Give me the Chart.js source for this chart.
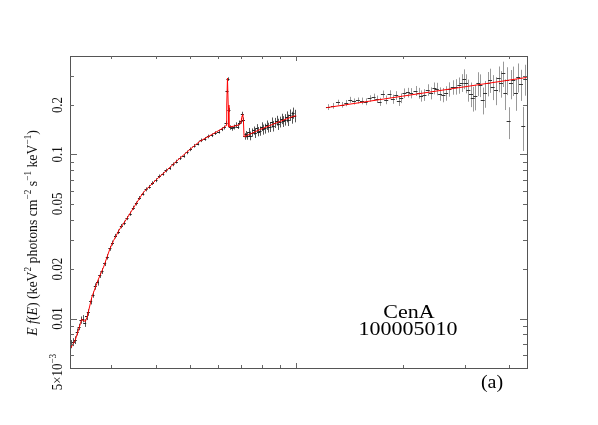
<!DOCTYPE html>
<html>
<head>
<meta charset="utf-8">
<script src="https://cdn.jsdelivr.net/npm/chart.js@4.4.0/dist/chart.umd.min.js"></script>
<style>
  html, body { margin: 0; padding: 0; background: #fff; }
  #wrap { width: 598px; height: 425px; }
</style>
</head>
<body>
<div id="wrap"><canvas id="chart" width="598" height="425"></canvas></div>
<script>
// XIS data (keV, E f(E), 1-sigma error)
const xisEnergy = [
  2.31, 2.34, 2.37, 2.40, 2.43, 2.46, 2.49, 2.52, 2.55, 2.58,
  2.62, 2.66, 2.70, 2.74, 2.78, 2.82, 2.87, 2.92, 2.97, 3.02,
  3.08, 3.14, 3.20, 3.26, 3.32, 3.39, 3.46, 3.53, 3.60, 3.68,
  3.76, 3.84, 3.92, 4.01, 4.10, 4.19, 4.28, 4.38, 4.48, 4.58,
  4.69, 4.80, 4.91, 5.02, 5.14, 5.26, 5.38, 5.51, 5.64, 5.77,
  5.90, 6.03, 6.15, 6.26, 6.33, 6.37, 6.41, 6.45, 6.51, 6.59,
  6.67, 6.75, 6.83, 6.91, 6.98, 7.04, 7.09, 7.15, 7.21, 7.28,
  7.35, 7.42, 7.50, 7.58, 7.66, 7.74, 7.82, 7.90, 7.98, 8.07,
  8.16, 8.25, 8.34, 8.43, 8.52, 8.61, 8.70, 8.80, 8.90, 9.00,
  9.10, 9.20, 9.30, 9.40, 9.50, 9.60, 9.70, 9.80, 9.90
];
const xisFlux = [
  0.0070, 0.0072, 0.0074, 0.0083, 0.0089, 0.0098, 0.0100, 0.0094, 0.0103, 0.0109,
  0.0128, 0.0140, 0.0157, 0.0166, 0.0184, 0.0195, 0.0217, 0.0238, 0.0268, 0.0289,
  0.0318, 0.0338, 0.0366, 0.0383, 0.0410, 0.0436, 0.0473, 0.0503, 0.0543, 0.0578,
  0.0613, 0.0635, 0.0669, 0.0697, 0.0736, 0.0762, 0.0799, 0.0827, 0.0871, 0.0905,
  0.0950, 0.0982, 0.1030, 0.1075, 0.1130, 0.1166, 0.1220, 0.1244, 0.1288, 0.1310,
  0.1350, 0.1376, 0.1425, 0.1460, 0.1560, 0.2420, 0.2880, 0.1870, 0.1460, 0.1440,
  0.1470, 0.1520, 0.1480, 0.1560, 0.1600, 0.1760, 0.1620, 0.1290, 0.1330, 0.1300,
  0.1370, 0.1300, 0.1360, 0.1400, 0.1350, 0.1440, 0.1380, 0.1390, 0.1480, 0.1420,
  0.1440, 0.1510, 0.1460, 0.1470, 0.1570, 0.1490, 0.1560, 0.1610, 0.1530, 0.1580,
  0.1650, 0.1590, 0.1630, 0.1700, 0.1620, 0.1740, 0.1680, 0.1790, 0.1720
];
const xisError = [
  0.0004, 0.0004, 0.0004, 0.0004, 0.0004, 0.0005, 0.0005, 0.0005, 0.0005, 0.0005,
  0.0006, 0.0006, 0.0007, 0.0007, 0.0007, 0.0008, 0.0008, 0.0009, 0.0009, 0.0010,
  0.0010, 0.0011, 0.0011, 0.0012, 0.0012, 0.0013, 0.0014, 0.0014, 0.0015, 0.0016,
  0.0017, 0.0017, 0.0018, 0.0019, 0.0019, 0.0020, 0.0021, 0.0022, 0.0023, 0.0024,
  0.0025, 0.0026, 0.0027, 0.0028, 0.0029, 0.0030, 0.0031, 0.0032, 0.0033, 0.0034,
  0.0035, 0.0036, 0.0037, 0.0040, 0.0045, 0.0060, 0.0070, 0.0055, 0.0045, 0.0045,
  0.005, 0.005, 0.005, 0.005, 0.006, 0.006, 0.006, 0.006, 0.006, 0.007,
  0.008, 0.008, 0.008, 0.008, 0.009, 0.009, 0.009, 0.009, 0.009, 0.010,
  0.010, 0.010, 0.010, 0.010, 0.011, 0.011, 0.011, 0.011, 0.012, 0.012,
  0.012, 0.012, 0.013, 0.013, 0.013, 0.014, 0.014, 0.014, 0.015
];

// PIN data
const pinEnergy = [
  12.30, 12.71, 13.13, 13.50, 13.86, 14.22, 14.57, 14.95, 15.35, 15.72,
  16.13, 16.56, 16.96, 17.22, 17.59, 17.98, 18.37, 18.77, 19.19, 19.52,
  19.82, 20.25, 20.70, 21.15, 21.76, 22.23, 22.57, 23.07, 23.57, 24.09,
  24.62, 24.99, 25.54, 26.10, 26.56, 27.14, 27.73, 28.34, 28.96, 29.40,
  29.92, 30.25, 30.71, 31.24, 31.59, 32.14, 32.78, 33.21, 33.72, 34.23,
  34.83, 35.37, 35.97, 36.77, 37.41, 37.98, 38.56, 39.07, 39.49, 39.92,
  40.53, 41.15, 41.88, 42.51, 43.25, 43.92, 44.49
];
const pinFlux = [
  0.1945, 0.1980, 0.2075, 0.2009, 0.2057, 0.2154, 0.2104, 0.2134, 0.2120, 0.2095,
  0.2194, 0.2237, 0.2175, 0.2095, 0.2332, 0.2154, 0.2332, 0.2175, 0.2289, 0.2125,
  0.2205, 0.2365, 0.2386, 0.2365, 0.2443, 0.2365, 0.2278, 0.2310, 0.2477, 0.2365,
  0.2535, 0.2512, 0.2343, 0.2310, 0.2365, 0.2500, 0.2572, 0.2594, 0.2644, 0.2744,
  0.2900, 0.2719, 0.2477, 0.2343, 0.2205, 0.2256, 0.2719, 0.2656, 0.2154, 0.2365,
  0.2719, 0.2850, 0.2594, 0.2477, 0.2915, 0.2719, 0.3126, 0.2365, 0.2850, 0.1590,
  0.2719, 0.2850, 0.2365, 0.2984, 0.2700, 0.1500, 0.2900
];
const pinError = [
  0.008, 0.008, 0.008, 0.008, 0.009, 0.009, 0.009, 0.009, 0.010, 0.010,
  0.010, 0.011, 0.011, 0.012, 0.012, 0.013, 0.013, 0.014, 0.014, 0.015,
  0.015, 0.016, 0.016, 0.017, 0.017, 0.018, 0.018, 0.019, 0.020, 0.020,
  0.021, 0.022, 0.022, 0.023, 0.024, 0.025, 0.026, 0.028, 0.030, 0.034,
  0.040, 0.036, 0.038, 0.040, 0.038, 0.040, 0.045, 0.042, 0.040, 0.044,
  0.046, 0.048, 0.045, 0.048, 0.052, 0.050, 0.055, 0.050, 0.055, 0.035,
  0.055, 0.058, 0.052, 0.060, 0.058, 0.045, 0.062
];

// best-fit model (red line)
const modelXisEnergy = [
  2.30, 2.37, 2.45, 2.47, 2.53, 2.56, 2.64, 2.75, 2.85, 2.97,
  3.04, 3.15, 3.31, 3.50, 3.69, 4.03, 4.30, 4.59, 5.00, 5.34,
  5.80, 6.21, 6.33, 6.36, 6.39, 6.42, 6.45, 6.70, 6.92, 6.98,
  7.03, 7.06, 7.09, 7.12, 7.89, 8.80, 9.79, 10.0
];
const modelXisFlux = [
  0.0066, 0.0074, 0.0093, 0.0099, 0.0096, 0.0102, 0.0135, 0.0172, 0.0206, 0.0266,
  0.0298, 0.0345, 0.0404, 0.0490, 0.0586, 0.0706, 0.0800, 0.0912, 0.1072, 0.1204,
  0.1330, 0.1450, 0.1500, 0.2000, 0.2920, 0.2000, 0.1470, 0.1490, 0.1520, 0.1580,
  0.1720, 0.1750, 0.1600, 0.1280, 0.1417, 0.1560, 0.1706, 0.1720
];
const modelPinEnergy = [12.17, 20.0, 30.0, 44.9];
const modelPinFlux = [0.1927, 0.2265, 0.2584, 0.2945];

// axes
const xMin = 2.29, xMax = 45.0;
const yMin = 0.005, yMax = 0.398;
const xMajorTicks = [10];
const xMinorTicks = [3, 4, 5, 6, 7, 8, 9, 20, 30, 40];
const yMajorTicks = [0.01, 0.1];
const yMinorTicks = [0.006, 0.007, 0.008, 0.009, 0.02, 0.03, 0.04, 0.05, 0.06, 0.07, 0.08, 0.09, 0.2, 0.3];
const yTickLabels = ["0.01", "0.02", "0.05", "0.1", "0.2"];

const SERIF = '"Liberation Serif", "DejaVu Serif", serif';

function toPoints(xs, ys) {
  return xs.map((x, i) => ({ x: x, y: ys[i] }));
}

// Draw a run of text pieces (italic / superscript) along the current x axis
function drawRuns(ctx, runs, size, align) {
  const pieces = runs.map(r => {
    const fs = r.sup ? Math.round(size * 0.68) : size;
    ctx.font = (r.it ? 'italic ' : '') + fs + 'px ' + SERIF;
    return { r: r, font: ctx.font, w: ctx.measureText(r.t).width };
  });
  const total = pieces.reduce((s, p) => s + p.w, 0);
  let x = align === 'center' ? -total / 2 : 0;
  ctx.textAlign = 'left';
  ctx.textBaseline = 'alphabetic';
  pieces.forEach(p => {
    ctx.font = p.font;
    ctx.fillText(p.r.t, x, p.r.sup ? -size * 0.42 : 0);
    x += p.w;
  });
}

// error bars / bin marks for data
function drawData(ctx, xs, ys, es, sx, sy, barColor, binColor, half) {
  for (let i = 0; i < xs.length; i++) {
    const px = sx.getPixelForValue(xs[i]);
    const py = sy.getPixelForValue(ys[i]);
    const top = sy.getPixelForValue(ys[i] + es[i]);
    const bot = sy.getPixelForValue(Math.max(ys[i] - es[i], yMin));
    ctx.strokeStyle = barColor;
    ctx.beginPath();
    ctx.moveTo(Math.round(px) + 0.5, top);
    ctx.lineTo(Math.round(px) + 0.5, bot);
    ctx.stroke();
    ctx.strokeStyle = binColor;
    ctx.beginPath();
    ctx.moveTo(px - half, Math.round(py) + 0.5);
    ctx.lineTo(px + half, Math.round(py) + 0.5);
    ctx.stroke();
  }
}

const dataPlugin = {
  id: 'dataPlugin',
  beforeDatasetsDraw(chart) {
    const ctx = chart.ctx;
    const a = chart.chartArea;
    ctx.save();
    ctx.beginPath();
    ctx.rect(a.left, a.top, a.right - a.left, a.bottom - a.top);
    ctx.clip();
    ctx.lineWidth = 1;
    drawData(ctx, xisEnergy, xisFlux, xisError, chart.scales.x, chart.scales.y, '#555', '#222', 1.5);
    drawData(ctx, pinEnergy, pinFlux, pinError, chart.scales.x, chart.scales.y, '#999', '#333', 2);
    ctx.restore();
  }
};

const framePlugin = {
  id: 'framePlugin',
  afterDraw(chart) {
    const ctx = chart.ctx;
    const a = chart.chartArea;
    const sx = chart.scales.x, sy = chart.scales.y;
    ctx.save();
    ctx.lineWidth = 1;
    ctx.strokeStyle = '#555';
    ctx.strokeRect(Math.round(a.left) + 0.5, Math.round(a.top) + 0.5,
      Math.round(a.right - a.left), Math.round(a.bottom - a.top));

    // inward ticks on all four sides
    ctx.strokeStyle = '#666';
    ctx.beginPath();
    const xt = (v, len) => {
      const p = Math.round(sx.getPixelForValue(v)) + 0.5;
      ctx.moveTo(p, a.bottom); ctx.lineTo(p, a.bottom - len);
      ctx.moveTo(p, a.top); ctx.lineTo(p, a.top + len);
    };
    const yt = (v, len) => {
      const p = Math.round(sy.getPixelForValue(v)) + 0.5;
      ctx.moveTo(a.left, p); ctx.lineTo(a.left + len, p);
      ctx.moveTo(a.right, p); ctx.lineTo(a.right - len, p);
    };
    xMajorTicks.forEach(v => xt(v, 5));
    xMinorTicks.forEach(v => xt(v, 3));
    yMajorTicks.forEach(v => yt(v, 7));
    yMinorTicks.forEach(v => yt(v, 4));
    ctx.stroke();

    // y tick labels, rotated
    ctx.fillStyle = '#111';
    const labelX = 62;
    yTickLabels.forEach(t => {
      ctx.save();
      ctx.translate(labelX, sy.getPixelForValue(parseFloat(t)));
      ctx.rotate(-Math.PI / 2);
      ctx.scale(0.92, 1);
      drawRuns(ctx, [{ t: t }], 14, 'center');
      ctx.restore();
    });
    ctx.save();
    ctx.translate(labelX, sy.getPixelForValue(yMin) + 4);
    ctx.rotate(-Math.PI / 2);
    ctx.scale(0.92, 1);
    drawRuns(ctx, [{ t: '5×10' }, { t: '−3', sup: true }], 14, 'center');
    ctx.restore();

    // y axis title
    ctx.save();
    ctx.translate(37, 233);
    ctx.rotate(-Math.PI / 2);
    ctx.scale(0.92, 1);
    drawRuns(ctx, [
      { t: 'E', it: true }, { t: ' ' }, { t: 'f', it: true }, { t: '(' }, { t: 'E', it: true },
      { t: ') (keV' }, { t: '2', sup: true }, { t: ' photons cm' }, { t: '−2', sup: true },
      { t: ' s' }, { t: '−1', sup: true }, { t: ' keV' }, { t: '−1', sup: true }, { t: ')' }
    ], 15, 'center');
    ctx.restore();

    // annotations
    ctx.fillStyle = '#000';
    [['CenA', 409, 318], ['100005010', 408, 334.5]].forEach(([t, x, y]) => {
      ctx.save();
      ctx.translate(x, y);
      ctx.scale(1, 0.9);
      drawRuns(ctx, [{ t: t }], 22, 'center');
      ctx.restore();
    });
    ctx.save();
    ctx.translate(492, 388);
    ctx.scale(1, 0.9);
    drawRuns(ctx, [{ t: '(a)' }], 20, 'center');
    ctx.restore();
    ctx.restore();
  }
};

const ctx = document.getElementById('chart').getContext('2d');
new Chart(ctx, {
  type: 'scatter',
  data: {
    datasets: [
      {
        label: 'model XIS',
        data: toPoints(modelXisEnergy, modelXisFlux),
        showLine: true,
        borderColor: '#ff0000',
        borderWidth: 1,
        pointRadius: 0,
        tension: 0
      },
      {
        label: 'model PIN',
        data: toPoints(modelPinEnergy, modelPinFlux),
        showLine: true,
        borderColor: '#ff0000',
        borderWidth: 1,
        pointRadius: 0,
        tension: 0
      }
    ]
  },
  options: {
    responsive: false,
    animation: false,
    layout: { padding: { left: 70, top: 56, right: 71, bottom: 57 } },
    plugins: { legend: { display: false }, tooltip: { enabled: false } },
    scales: {
      x: { type: 'logarithmic', min: xMin, max: xMax, display: false },
      y: { type: 'logarithmic', min: yMin, max: yMax, display: false }
    }
  },
  plugins: [dataPlugin, framePlugin]
});
</script>
</body>
</html>
